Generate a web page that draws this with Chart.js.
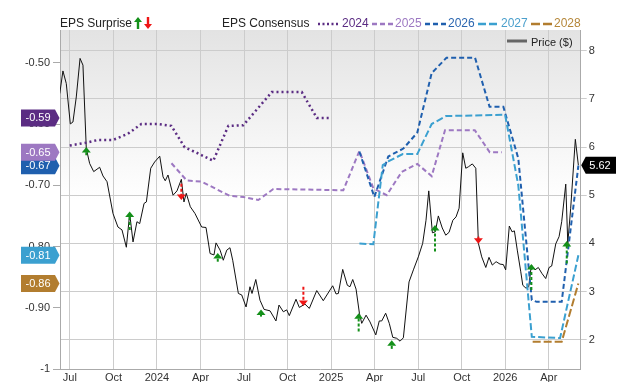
<!DOCTYPE html>
<html>
<head>
<meta charset="utf-8">
<script src="https://cdn.jsdelivr.net/npm/chart.js@4.4.1/dist/chart.umd.min.js"></script>
<style>
  body { margin: 0; background: #fff; font-family: "Liberation Sans", Arial, sans-serif; }
  #wrap { position: relative; width: 640px; height: 382px; }
  .lg { position: absolute; top: 16px; font-size: 12px; line-height: 14px; white-space: nowrap; }
  .lg svg { display: block; }
</style>
</head>
<body>
<div id="wrap">
  <canvas id="epsChart" width="640" height="382"></canvas>

  <span class="lg" style="left:60px;color:#222">EPS Surprise</span>
  <span class="lg" style="left:134px;top:17px"><svg width="20" height="12">
    <path d="M4 0 L8 5 L5.2 5 L5.2 12 L2.8 12 L2.8 5 L0 5 Z" fill="#14901a"/>
    <path d="M14 12 L10 7 L12.8 7 L12.8 0 L15.2 0 L15.2 7 L18 7 Z" fill="#ee1515"/>
  </svg></span>
  <span class="lg" style="left:222px;color:#222">EPS Consensus</span>

  <span class="lg" style="left:318px;top:22px"><svg width="21" height="4"><line x1="0" y1="2" x2="21" y2="2" stroke="#5b2c83" stroke-width="2.5" stroke-dasharray="2,2.5"/></svg></span>
  <span class="lg" style="left:342px;color:#5b2c83">2024</span>
  <span class="lg" style="left:372px;top:22px"><svg width="21" height="4"><line x1="0" y1="2" x2="21" y2="2" stroke="#9d78c2" stroke-width="2.5" stroke-dasharray="5,3"/></svg></span>
  <span class="lg" style="left:395px;color:#9d78c2">2025</span>
  <span class="lg" style="left:425px;top:22px"><svg width="21" height="4"><line x1="0" y1="2" x2="21" y2="2" stroke="#1f5fae" stroke-width="2.5" stroke-dasharray="5,3"/></svg></span>
  <span class="lg" style="left:448px;color:#2b66b0">2026</span>
  <span class="lg" style="left:478px;top:22px"><svg width="20" height="4"><line x1="0" y1="2" x2="20" y2="2" stroke="#3ba0d0" stroke-width="2.5" stroke-dasharray="8,3"/></svg></span>
  <span class="lg" style="left:501px;color:#4a9fcc">2027</span>
  <span class="lg" style="left:531px;top:22px"><svg width="21" height="4"><line x1="0" y1="2" x2="21" y2="2" stroke="#b27d2f" stroke-width="2.5" stroke-dasharray="9,3"/></svg></span>
  <span class="lg" style="left:554px;color:#b5873a">2028</span>

  <span class="lg" style="left:507px;top:39px"><svg width="20" height="4"><line x1="0" y1="2" x2="20" y2="2" stroke="#666" stroke-width="3"/></svg></span>
  <span class="lg" style="left:531px;top:35px;font-size:11px;color:#222">Price ($)</span>
</div>

<script>
// x values are months counted from Jan 2023 (6 = Jul 2023)
const tickMonths = [6, 9, 12, 15, 18, 21, 24, 27, 30, 33, 36, 39];
const tickLabels = ['Jul', 'Oct', '2024', 'Apr', 'Jul', 'Oct', '2025', 'Apr', 'Jul', 'Oct', '2026', 'Apr'];
const epsTicks = [-1, -0.9, -0.8, -0.7, -0.6, -0.5];
const priceTicks = [2, 3, 4, 5, 6, 7, 8];

const months2024 = [5.99, 7.02, 7.94, 8.97, 10.0, 10.92, 12.07, 12.99, 13.91, 14.83, 15.88, 16.92, 17.95, 19.91, 21.98, 23.01, 23.93];
const eps2024 = [-0.635, -0.631, -0.626, -0.626, -0.616, -0.6, -0.6, -0.603, -0.638, -0.648, -0.66, -0.603, -0.602, -0.548, -0.548, -0.59, -0.59];

const months2025 = [13.0, 14.05, 15.08, 17.0, 17.95, 18.98, 20.02, 24.84, 25.95, 26.91, 27.83, 28.87, 29.94, 30.93, 31.85, 33.9, 34.93, 35.76];
const eps2025 = [-0.664, -0.692, -0.694, -0.717, -0.719, -0.724, -0.706, -0.708, -0.644, -0.705, -0.716, -0.678, -0.665, -0.685, -0.61, -0.61, -0.646, -0.646];

const months2026 = [25.95, 26.98, 27.94, 28.98, 29.94, 30.93, 31.95, 33.92, 34.92, 35.87, 36.9, 37.83, 38.17, 39.89, 41.04];
const eps2026 = [-0.645, -0.719, -0.653, -0.64, -0.614, -0.517, -0.492, -0.492, -0.572, -0.572, -0.656, -0.887, -0.89, -0.89, -0.668];

const months2027 = [25.95, 26.91, 27.56, 27.94, 28.94, 29.94, 30.93, 31.92, 35.99, 36.9, 37.83, 39.78, 41.04];
const eps2027 = [-0.795, -0.796, -0.667, -0.661, -0.649, -0.649, -0.6, -0.587, -0.585, -0.7, -0.947, -0.949, -0.814];

const months2028 = [37.89, 39.89, 41.04];
const eps2028 = [-0.955, -0.955, -0.86];

const priceMonths = [5.30, 5.52, 5.75, 6.03, 6.21, 6.44, 6.70, 6.90, 7.13, 7.36, 7.64, 8.05, 8.28, 8.56, 8.97, 9.31, 9.59, 9.89,
  10.12, 10.35, 10.62, 10.81, 11.11, 11.27, 11.57, 11.84, 12.19, 12.42, 12.57, 12.76, 13.11, 13.38, 13.68, 13.86, 14.02, 14.30,
  14.62, 15.08, 15.38, 15.66, 15.93, 16.07, 16.35, 16.57, 16.81, 17.03, 17.22, 17.61, 17.84, 18.14, 18.41, 18.55, 18.81, 19.10,
  19.38, 19.79, 20.20, 20.41, 20.71, 20.94, 21.12, 21.58, 21.81, 22.20, 22.50, 23.01, 23.46, 24.11, 24.34, 24.50, 24.80, 25.12,
  25.30, 25.49, 25.72, 25.95, 26.11, 26.41, 26.68, 27.08, 27.32, 27.49, 27.76, 28.01, 28.25, 28.52, 28.75, 28.98, 29.37, 29.67,
  30.01, 30.31, 30.54, 30.73, 30.98, 31.18, 31.39, 31.66, 31.90, 32.13, 32.39, 32.61, 32.82, 33.07, 33.28, 33.46, 33.73, 33.97,
  34.15, 34.38, 34.66, 34.88, 35.11, 35.37, 35.64, 35.87, 36.03, 36.28, 36.47, 36.63, 36.83, 37.07, 37.21, 37.43, 37.62, 37.80,
  38.05, 38.28, 38.52, 38.79, 39.02, 39.20, 39.48, 39.71, 39.89, 40.17, 40.31, 40.51, 40.83, 41.04];
const priceValues = [7.11, 7.58, 7.32, 6.48, 6.52, 7.04, 7.84, 7.70, 5.97, 5.66, 5.49, 5.58, 5.40, 5.28, 4.62, 4.34, 4.28, 3.92,
  4.62, 4.03, 4.45, 4.41, 4.83, 4.86, 5.56, 5.69, 5.81, 5.38, 5.30, 5.42, 5.00, 5.09, 5.33, 4.86, 5.04, 4.76,
  4.62, 4.34, 4.33, 3.79, 3.76, 4.01, 3.86, 3.65, 3.86, 3.91, 3.65, 2.96, 2.93, 2.68, 3.10, 2.96, 3.25, 2.82,
  2.63, 2.60, 2.39, 2.72, 2.58, 2.62, 2.50, 2.84, 2.67, 2.74, 2.65, 3.02, 2.81, 3.12, 2.95, 2.96, 3.46, 3.13,
  3.10, 3.25, 3.05, 2.55, 2.34, 2.51, 2.37, 2.10, 2.39, 2.39, 2.55, 2.34, 2.05, 2.03, 1.97, 2.04, 3.20, 3.45,
  3.72, 4.00, 4.48, 5.09, 4.22, 4.24, 4.57, 4.32, 4.17, 4.23, 4.48, 4.55, 4.73, 5.88, 5.56, 5.59, 5.65, 5.56,
  4.00, 3.72, 3.50, 3.71, 3.55, 3.62, 3.57, 3.56, 3.45, 4.36, 4.24, 4.26, 3.86, 3.41, 3.13, 3.07, 3.10, 3.55,
  3.45, 3.50, 3.38, 3.27, 3.50, 3.53, 3.99, 4.14, 4.45, 5.23, 4.00, 4.73, 6.16, 5.62];

// EPS surprise arrows: head and tail on the price axis
const surpriseMonths = [7.13, 10.12, 13.68, 16.19, 19.17, 22.09, 25.90, 28.18, 31.16, 34.15, 37.80, 40.24];
const surpriseHead = [6.00, 4.66, 4.90, 3.80, 2.63, 2.70, 2.55, 1.99, 4.38, 3.99, 3.57, 4.05];
const surpriseTail = [5.83, 4.28, 5.24, 3.62, 2.48, 3.10, 2.17, 1.81, 3.83, 4.14, 3.03, 3.58];

const pts = (xs, ys) => xs.map((x, i) => ({ x: x, y: ys[i] }));

Chart.defaults.font.family = '"Liberation Sans", Arial, sans-serif';
Chart.defaults.font.size = 11;
Chart.defaults.color = '#333';

const bgPlugin = {
  id: 'bg',
  beforeDraw(chart) {
    const { ctx, chartArea: a } = chart;
    const g = ctx.createLinearGradient(0, a.top, 0, a.bottom);
    g.addColorStop(0, '#e3e3e3');
    g.addColorStop(0.5, '#ffffff');
    ctx.save();
    ctx.fillStyle = g;
    ctx.fillRect(a.left, a.top, a.right - a.left, a.bottom - a.top);
    ctx.restore();
  }
};

const arrowPlugin = {
  id: 'arrows',
  afterDatasetsDraw(chart) {
    const ctx = chart.ctx;
    const xs = chart.scales.x, ys = chart.scales.yP;
    surpriseMonths.forEach((m, i) => {
      const x = xs.getPixelForValue(m);
      const yh = ys.getPixelForValue(surpriseHead[i]);
      const yt = ys.getPixelForValue(surpriseTail[i]);
      const up = surpriseHead[i] > surpriseTail[i];
      const col = up ? '#14901a' : '#ee1515';
      const d = up ? 1 : -1;
      ctx.save();
      ctx.strokeStyle = col;
      ctx.lineWidth = 2;
      ctx.setLineDash([3, 2]);
      ctx.beginPath();
      ctx.moveTo(x, yt);
      ctx.lineTo(x, yh + d * 4);
      ctx.stroke();
      ctx.setLineDash([]);
      ctx.fillStyle = col;
      ctx.beginPath();
      ctx.moveTo(x, yh);
      ctx.lineTo(x - 4.5, yh + d * 5.5);
      ctx.lineTo(x + 4.5, yh + d * 5.5);
      ctx.closePath();
      ctx.fill();
      ctx.restore();
    });
  }
};

// value flags on both axes
const tagPlugin = {
  id: 'tags',
  afterDraw(chart) {
    const ctx = chart.ctx;
    const yE = chart.scales.yE, yP = chart.scales.yP;
    const left = chart.chartArea.left, right = chart.chartArea.right;
    const h = 17;
    ctx.save();
    ctx.font = '11px "Liberation Sans", Arial, sans-serif';
    ctx.textBaseline = 'middle';
    ctx.textAlign = 'center';
    chart.data.datasets.forEach(ds => {
      if (ds.yAxisID !== 'yE') return;
      const v = ds.data[ds.data.length - 1].y;
      const y = yE.getPixelForValue(v);
      ctx.fillStyle = ds.borderColor;
      ctx.beginPath();
      ctx.moveTo(21, y - h / 2);
      ctx.lineTo(left - 5, y - h / 2);
      ctx.lineTo(left - 0.5, y);
      ctx.lineTo(left - 5, y + h / 2);
      ctx.lineTo(21, y + h / 2);
      ctx.closePath();
      ctx.fill();
      ctx.fillStyle = '#fff';
      ctx.fillText(v.toFixed(2), 38, y + 0.5);
    });
    const last = priceValues[priceValues.length - 1];
    const y = yP.getPixelForValue(last);
    ctx.fillStyle = '#000';
    ctx.beginPath();
    ctx.moveTo(right + 0.5, y);
    ctx.lineTo(right + 5, y - h / 2);
    ctx.lineTo(616, y - h / 2);
    ctx.lineTo(616, y + h / 2);
    ctx.lineTo(right + 5, y + h / 2);
    ctx.closePath();
    ctx.fill();
    ctx.fillStyle = '#fff';
    ctx.fillText(last.toFixed(2), 600, y + 0.5);
    ctx.restore();
  }
};

const epsLine = (label, xs, ys, color, dash, width) => ({
  label: label,
  data: pts(xs, ys),
  yAxisID: 'yE',
  borderColor: color,
  borderWidth: width,
  borderDash: dash,
  pointRadius: 0,
  fill: false
});

const ctx = document.getElementById('epsChart').getContext('2d');
new Chart(ctx, {
  type: 'line',
  data: {
    datasets: [
      epsLine('2028', months2028, eps2028, '#b27d2f', [8, 3], 2),
      epsLine('2027', months2027, eps2027, '#3ba0d0', [7, 3], 2),
      epsLine('2026', months2026, eps2026, '#1f5fae', [5, 3], 2),
      epsLine('2025', months2025, eps2025, '#9d78c2', [5, 3], 2),
      epsLine('2024', months2024, eps2024, '#5b2c83', [2, 3], 2.5),
      {
        label: 'Price ($)',
        data: pts(priceMonths, priceValues),
        yAxisID: 'yP',
        borderColor: '#111',
        borderWidth: 1,
        pointRadius: 0,
        fill: false
      }
    ]
  },
  options: {
    responsive: false,
    animation: false,
    layout: { padding: { top: 30, left: 0, right: 0, bottom: 0 } },
    elements: { line: { tension: 0 } },
    plugins: {
      legend: { display: false },
      tooltip: { enabled: false }
    },
    scales: {
      x: {
        type: 'linear',
        min: 5.318,
        max: 41.2,
        afterBuildTicks: s => { s.ticks = tickMonths.map(v => ({ value: v })); },
        afterFit: s => { s.height = 12.7; },
        ticks: {
          autoSkip: false,
          maxRotation: 0,
          padding: 2,
          callback: v => tickLabels[tickMonths.indexOf(v)]
        },
        grid: { color: '#cccccc', drawTicks: false },
        border: { color: '#aaaaaa' }
      },
      yE: {
        type: 'linear',
        position: 'left',
        min: -1,
        max: -0.4467,
        afterBuildTicks: s => { s.ticks = epsTicks.map(v => ({ value: v })); },
        afterFit: s => { s.width = 60; },
        ticks: {
          padding: 3,
          callback: v => (v === -1 ? '-1' : v.toFixed(2))
        },
        grid: { drawOnChartArea: false, tickLength: 7, color: '#aaaaaa' },
        border: { color: '#aaaaaa' }
      },
      yP: {
        type: 'linear',
        position: 'right',
        min: 1.386,
        max: 8.43,
        afterBuildTicks: s => { s.ticks = priceTicks.map(v => ({ value: v })); },
        afterFit: s => { s.width = 59.3; },
        ticks: { padding: 2 },
        grid: { color: '#cccccc', tickLength: 6 },
        border: { color: '#aaaaaa' }
      }
    }
  },
  plugins: [bgPlugin, arrowPlugin, tagPlugin]
});
</script>
</body>
</html>
